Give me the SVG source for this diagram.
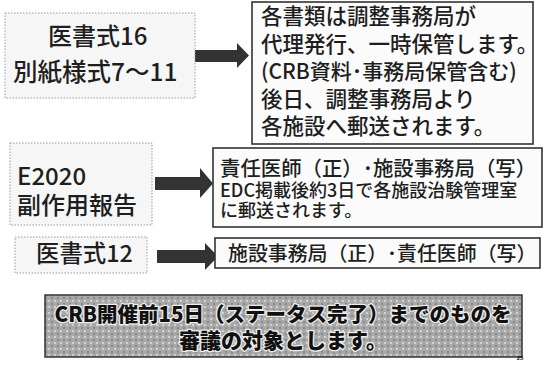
<svg xmlns="http://www.w3.org/2000/svg" width="544" height="372" viewBox="0 0 544 372">
<style>
.src{fill:#f6f6f6;stroke:#9a9a9a;stroke-width:1;stroke-dasharray:1.5 1.5}
.dst{fill:#fbfbfb;stroke:#333;stroke-width:1.6}
.t{font-family:"Noto Sans CJK JP","Noto Sans",sans-serif;fill:#1e1e1e;font-weight:500}
.arr{fill:#333}
.banner{stroke:#333;stroke-width:1.5}
.bt{font-family:"Noto Sans CJK JP",sans-serif;font-weight:900;fill:#111;stroke:#eee;stroke-width:2.5;paint-order:stroke;stroke-linejoin:round}
</style>
<defs>
<pattern id="dots" width="6" height="6" patternUnits="userSpaceOnUse">
<rect width="6" height="6" fill="#a8a8a8"/>
<rect x="0" y="0" width="2" height="2" fill="#d0d0d0"/>
<rect x="3" y="3" width="2" height="2" fill="#888"/>
</pattern>
</defs>
<rect width="544" height="372" fill="#fff"/>
<g id="connectors">
<polygon class="arr" points="195,50 237,50 237,43 249,55.5 237,68 237,62 195,62"/>
<polygon class="arr" points="155,177 200,177 200,168 213,183.5 200,198 200,190 155,190"/>
<polygon class="arr" points="157,250 205,250 205,243 218,256.5 205,270 205,263 157,263"/>
</g>
<g id="n1">
<rect class="src" x="5" y="13" width="190" height="85"/>
<text class="t" x="48" y="45" font-size="24">医書式16</text>
<text class="t" x="13" y="81" font-size="24.5">別紙様式7～11</text>
</g>
<g id="n2">
<rect class="dst" x="252" y="2" width="281" height="142"/>
<text class="t" font-size="21.5" x="261" y="24">各書類は調整事務局が</text>
<text class="t" font-size="21.5" x="261" y="52">代理発行、一時保管します。</text>
<text class="t" font-size="21" x="261" y="79">(CRB資料･事務局保管含む)</text>
<text class="t" font-size="21.5" x="261" y="107">後日、調整事務局より</text>
<text class="t" font-size="21.5" x="261" y="134">各施設へ郵送されます。</text>
</g>
<g id="n3">
<rect class="src" x="10" y="143" width="142" height="82"/>
<text class="t" x="17" y="185" font-size="24">E2020</text>
<text class="t" x="17" y="214" font-size="24">副作用報告</text>
</g>
<g id="n4">
<rect class="dst" x="213" y="148" width="329" height="79"/>
<text class="t" x="220" y="176" font-size="20.4" font-weight="bold">責任医師（正）･施設事務局（写）</text>
<text class="t" x="220" y="197" font-size="18">EDC掲載後約3日で各施設治験管理室</text>
<text class="t" x="220" y="217" font-size="18">に郵送されます。</text>
</g>
<g id="n5">
<rect class="src" x="15" y="237" width="132" height="36"/>
<text class="t" x="36" y="262" font-size="23.4">医書式12</text>
</g>
<g id="n6">
<rect class="dst" x="215" y="238" width="325" height="30"/>
<text class="t" x="228" y="261" font-size="19.9">施設事務局（正）･責任医師（写）</text>
</g>
<g id="banner">
<rect class="banner" x="45" y="295" width="477" height="62" fill="url(#dots)"/>
<text class="bt" x="283" y="322" font-size="20.5" text-anchor="middle">CRB開催前15日（ステータス完了）までのものを</text>
<text class="bt" x="283" y="348" font-size="21" text-anchor="middle">審議の対象とします。</text>
</g>
<text x="520" y="360" font-family="Liberation Sans,sans-serif" font-size="6" font-weight="bold" fill="#111" text-anchor="middle">25</text>
</svg>
